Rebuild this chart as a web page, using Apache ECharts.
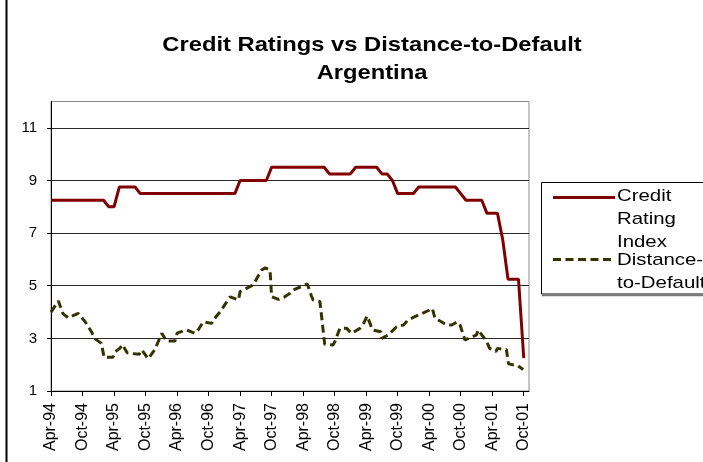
<!DOCTYPE html>
<html>
<head>
<meta charset="utf-8">
<title>Credit Ratings vs Distance-to-Default — Argentina</title>
<script src="https://cdn.jsdelivr.net/npm/echarts@6.0.0/dist/echarts.min.js"></script>
<style>
  html, body { margin: 0; padding: 0; background: #fff; }
  #chart { width: 703px; height: 462px; }
</style>
</head>
<body>
<div id="chart"></div>
<script>
// Axis labels, one every six months starting April 1994
const tickLabels = ['Apr-94', 'Oct-94', 'Apr-95', 'Oct-95', 'Apr-96', 'Oct-96', 'Apr-97', 'Oct-97',
  'Apr-98', 'Oct-98', 'Apr-99', 'Oct-99', 'Apr-00', 'Oct-00', 'Apr-01', 'Oct-01'];

// Credit rating index, monthly from Apr-94 to Oct-01
const ratingIndex = [
  8.25, 8.25, 8.25, 8.25, 8.25, 8.25, 8.25, 8.25, 8.25, 8.25, 8.25,   // Apr-94 .. Feb-95
  8.0, 8.0,                                                          // Mar-95 .. Apr-95
  8.75, 8.75, 8.75, 8.75,                                            // May-95 .. Aug-95
  8.5, 8.5, 8.5, 8.5, 8.5, 8.5, 8.5, 8.5, 8.5, 8.5, 8.5, 8.5, 8.5, 8.5, 8.5, 8.5, 8.5, 8.5, 8.5, // Sep-95 .. Mar-97
  9.0, 9.0, 9.0, 9.0, 9.0, 9.0,                                      // Apr-97 .. Sep-97
  9.5, 9.5, 9.5, 9.5, 9.5, 9.5, 9.5, 9.5, 9.5, 9.5, 9.5,             // Oct-97 .. Aug-98
  9.25, 9.25, 9.25, 9.25, 9.25,                                      // Sep-98 .. Jan-99
  9.5, 9.5, 9.5, 9.5, 9.5,                                           // Feb-99 .. Jun-99
  9.25, 9.25, 9.0,                                                   // Jul-99 .. Sep-99
  8.5, 8.5, 8.5, 8.5,                                                // Oct-99 .. Jan-00
  8.75, 8.75, 8.75, 8.75, 8.75, 8.75, 8.75, 8.75,                    // Feb-00 .. Sep-00
  8.5,                                                               // Oct-00
  8.25, 8.25, 8.25, 8.25,                                            // Nov-00 .. Feb-01
  7.75, 7.75, 7.75,                                                  // Mar-01 .. May-01
  6.75,                                                              // Jun-01
  5.25, 5.25, 5.25,                                                  // Jul-01 .. Sep-01
  2.25                                                               // Oct-01
];

// Distance-to-default observations: time in months after Apr-94, and value
const ddMonths = [
  0, 1.4, 2.3, 3.3, 5.2, 6.5, 7.7, 8.4, 9.6, 10.1, 11.8, 12.2, 13.1, 13.6, 14.5, 15.6, 16.8, 17.3,
  18.5, 19.8, 20.4, 21.1, 22.0, 23.6, 24.0, 25.8, 27.4, 28.0, 29.0, 30.6, 30.9, 32.2, 34.1, 35.7,
  36.0, 38.5, 40.1, 40.8, 41.7, 42.0, 43.3, 44.5, 45.5, 46.1, 48.4, 48.8, 49.6, 49.9, 51.2, 52.1,
  53.7, 54.1, 55.0, 55.3, 56.3, 57.2, 58.8, 59.5, 60.2, 61.2, 62.8, 63.0, 64.2, 65.8, 67.1, 68.0,
  69.3, 72.1, 72.6, 73.1, 74.4, 75.3, 76.3, 77.3, 77.9, 78.8, 81.0, 81.3, 82.9, 83.5, 84.7, 85.0,
  86.7, 87.1, 88.9, 89.9
];
const ddValues = [
  4.0, 4.42, 3.93, 3.78, 3.95, 3.63, 3.25, 2.98, 2.81, 2.28, 2.28, 2.49, 2.62, 2.76, 2.45, 2.42, 2.40, 2.56,
  2.22, 2.58, 2.87, 3.19, 2.90, 2.90, 3.20, 3.32, 3.19, 3.32, 3.63, 3.57, 3.70, 4.01, 4.58, 4.46,
  4.78, 5.03, 5.60, 5.68, 5.60, 4.58, 4.48, 4.58, 4.71, 4.84, 5.03, 5.07, 4.60, 4.46, 4.40, 2.78,
  2.75, 2.90, 3.38, 3.44, 3.38, 3.19, 3.38, 3.57, 3.85, 3.32, 3.25, 3.00, 3.13, 3.44, 3.51, 3.70,
  3.83, 4.08, 4.14, 3.76, 3.62, 3.51, 3.51, 3.63, 3.50, 2.94, 3.13, 3.32, 2.90, 2.62, 2.50, 2.62,
  2.57, 2.03, 1.96, 1.82
];

const seriesNames = ['Credit Rating Index', 'Distance-to-Default'];
const legendLines = [['Credit', 'Rating', 'Index'], ['Distance-', 'to-Default']];
const titleLines = ['Credit Ratings vs Distance-to-Default', 'Argentina'];
const yTicks = { min: 1, max: 12, step: 2 };
const monthsShown = 91;

const RED = '#800000';
const OLIVE = '#333300';
const FONT = 'Liberation Sans, Arial, sans-serif';

const chart = echarts.init(document.getElementById('chart'), null, { renderer: 'canvas' });

const tickMonths = tickLabels.map((_, k) => k * 6);

// wide-set text used for the heading and the key
function wideText(str, x, y, size, weight, scaleX, align) {
  return {
    type: 'text', x: x, y: y, scaleX: scaleX,
    style: {
      text: str, fill: '#000',
      font: (weight ? weight + ' ' : '') + size + 'px ' + FONT,
      align: align || 'left', verticalAlign: 'middle'
    }
  };
}

chart.setOption({
  animation: false,
  backgroundColor: '#fff',
  grid: {
    left: 51, right: 174, top: 101.5, bottom: 71,
    show: true, borderColor: '#8c8c8c', borderWidth: 1, backgroundColor: 'transparent'
  },
  xAxis: {
    type: 'value',
    min: 0,
    max: monthsShown,
    axisLine: { lineStyle: { color: '#000', width: 1 } },
    axisTick: { show: true, length: 5, customValues: tickMonths, lineStyle: { color: '#000' } },
    axisLabel: {
      customValues: tickMonths,
      rotate: 90,
      margin: 12,
      fontFamily: FONT,
      fontSize: 16,
      color: '#000',
      formatter: v => tickLabels[Math.round(v / 6)]
    },
    splitLine: { show: false }
  },
  yAxis: {
    type: 'value',
    min: yTicks.min,
    max: yTicks.max,
    interval: yTicks.step,
    axisLine: { show: true, lineStyle: { color: '#000', width: 1 } },
    axisTick: { show: true, length: 4, lineStyle: { color: '#000' } },
    axisLabel: { showMaxLabel: false, margin: 14, fontFamily: FONT, fontSize: 15, color: '#000' },
    splitLine: { show: true, showMinLine: false, showMaxLine: false, lineStyle: { color: '#2a2a2a', width: 1 } }
  },
  series: [
    {
      name: seriesNames[0],
      type: 'line',
      data: ratingIndex.map((v, i) => [i, v]),
      symbol: 'none',
      lineStyle: { color: RED, width: 3 },
      z: 3
    },
    {
      name: seriesNames[1],
      type: 'line',
      data: ddMonths.map((m, i) => [m, ddValues[i]]),
      symbol: 'none',
      lineStyle: { color: OLIVE, width: 3, type: [8, 4.5] },
      z: 2
    }
  ],
  graphic: [
    // outer chart frame, left edge
    { type: 'line', shape: { x1: 6.5, y1: 0, x2: 6.5, y2: 462 }, style: { stroke: '#000', lineWidth: 2 } },
    // heading
    wideText(titleLines[0], 372, 45, 21, 'bold', 1.13, 'center'),
    wideText(titleLines[1], 372, 73, 21, 'bold', 1.13, 'center'),
    // key frame
    { type: 'rect', shape: { x: 541.5, y: 182.5, width: 200, height: 111.5 },
      style: { fill: '#fff', stroke: '#000', lineWidth: 1 } },
    { type: 'line', shape: { x1: 542, y1: 295.5, x2: 703, y2: 295.5 }, style: { stroke: '#777', lineWidth: 1.5 } },
    // key samples
    { type: 'line', shape: { x1: 553, y1: 197.5, x2: 615, y2: 197.5 }, style: { stroke: RED, lineWidth: 3 } },
    { type: 'line', shape: { x1: 553, y1: 259.5, x2: 615, y2: 259.5 },
      style: { stroke: OLIVE, lineWidth: 3, lineDash: [8, 4.5] } },
    // key labels
    wideText(legendLines[0][0], 617, 196, 17, '', 1.2),
    wideText(legendLines[0][1], 617, 219, 17, '', 1.2),
    wideText(legendLines[0][2], 617, 242, 17, '', 1.2),
    wideText(legendLines[1][0], 617, 260, 17, '', 1.2),
    wideText(legendLines[1][1], 617, 283, 17, '', 1.2)
  ]
});
</script>
</body>
</html>
